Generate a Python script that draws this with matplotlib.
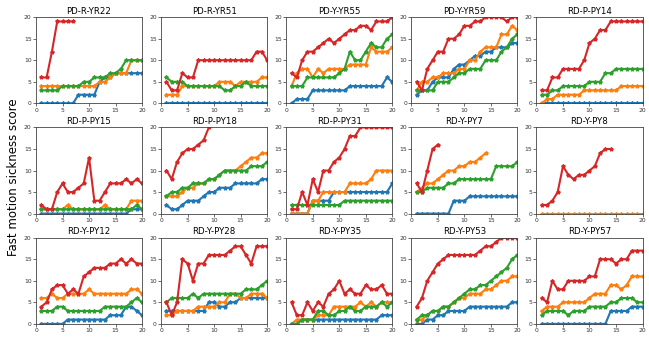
import matplotlib
matplotlib.use("Agg")
import matplotlib.pyplot as plt

titles = ["PD-R-YR22", "PD-R-YR51", "PD-Y-YR55", "PD-Y-YR59", "RD-P-PY14",
          "RD-P-PY15", "RD-P-PY18", "RD-P-PY31", "RD-Y-PY7", "RD-Y-PY8",
          "RD-Y-PY12", "RD-Y-PY28", "RD-Y-PY35", "RD-Y-PY53", "RD-Y-PY57"]

pd_r_yr22 = dict(
    blue=[0, 0, 0, 0, 0, 0, 0, 2, 2, 2, 2, 5, 6, 6, 7, 7, 7, 7, 7, 7],
    orange=[4, 4, 4, 4, 4, 4, 4, 4, 4, 4, 4, 5, 5, 6, 7, 7, 7, 10, 10, 10],
    green=[3, 3, 3, 3, 4, 4, 4, 4, 5, 5, 6, 6, 6, 7, 7, 8, 10, 10, 10, 10],
    red=[6, 6, 12, 19, 19, 19, 19])
pd_r_yr51 = dict(
    blue=[0] * 20,
    orange=[2, 2, 2, 4, 4, 4, 4, 4, 4, 4, 5, 5, 5, 4, 5, 5, 5, 5, 6, 6],
    green=[6, 5, 5, 5, 4, 4, 4, 4, 4, 4, 4, 3, 3, 4, 4, 5, 4, 4, 4, 4],
    red=[5, 3, 3, 7, 6, 6, 10, 10, 10, 10, 10, 10, 10, 10, 10, 10, 10, 12, 12, 10])
pd_y_yr55 = dict(
    blue=[0, 1, 1, 1, 3, 3, 3, 3, 3, 3, 3, 4, 4, 4, 4, 4, 4, 4, 6, 5],
    orange=[4, 7, 8, 8, 6, 8, 7, 8, 8, 8, 8, 9, 9, 9, 9, 13, 12, 12, 12, 13],
    green=[4, 4, 4, 6, 6, 6, 6, 6, 6, 7, 8, 12, 10, 10, 12, 14, 13, 13, 15, 16],
    red=[7, 6, 10, 12, 12, 13, 14, 15, 14, 15, 16, 17, 17, 18, 18, 17, 19, 19, 19, 20])
pd_y_yr59 = dict(
    blue=[2, 3, 3, 5, 6, 6, 6, 8, 9, 9, 10, 11, 11, 12, 12, 13, 13, 13, 14, 14],
    orange=[3, 5, 5, 6, 6, 7, 7, 7, 8, 8, 10, 10, 12, 13, 13, 13, 16, 16, 18, 17],
    green=[3, 3, 3, 3, 5, 5, 5, 6, 7, 7, 8, 8, 8, 10, 10, 10, 12, 13, 15, 16],
    red=[5, 3, 8, 10, 12, 12, 15, 15, 16, 18, 18, 19, 19, 20, 20, 20, 20, 19, 20, 20])
rd_p_py14 = dict(
    blue=[0] * 20,
    orange=[0, 1, 1, 2, 2, 2, 2, 2, 3, 3, 3, 3, 3, 3, 3, 4, 4, 4, 4, 4],
    green=[2, 2, 3, 3, 4, 4, 4, 4, 4, 5, 5, 5, 7, 7, 8, 8, 8, 8, 8, 8],
    red=[3, 3, 6, 6, 8, 8, 8, 8, 10, 14, 15, 17, 17, 19, 19, 19, 19, 19, 19, 19])
rd_p_py15 = dict(
    blue=[0, 0, 0, 0, 0, 0, 0, 0, 0, 0, 0, 0, 0, 0, 0, 0, 0, 1, 1, 1],
    orange=[1, 1, 1, 1, 1, 2, 1, 1, 1, 1, 1, 1, 2, 1, 1, 1, 1, 3, 3, 3],
    green=[1, 1, 1, 1, 1, 1, 1, 1, 1, 1, 1, 1, 1, 1, 1, 1, 1, 1, 2, 1],
    red=[2, 1, 1, 5, 7, 5, 5, 6, 7, 13, 3, 3, 5, 7, 7, 7, 8, 7, 8, 7])
rd_p_py18 = dict(
    blue=[2, 1, 1, 2, 3, 3, 3, 4, 5, 5, 6, 6, 6, 7, 7, 7, 7, 7, 8, 8],
    orange=[4, 4, 4, 5, 6, 6, 7, 7, 8, 8, 9, 10, 10, 10, 11, 12, 13, 13, 14, 14],
    green=[4, 5, 5, 6, 6, 7, 7, 7, 8, 8, 9, 10, 10, 10, 10, 10, 11, 11, 11, 12],
    red=[10, 8, 12, 14, 15, 15, 16, 17, 20])
rd_p_py31 = dict(
    blue=[0, 0, 0, 0, 3, 3, 3, 3, 5, 5, 5, 5, 5, 5, 5, 5, 5, 5, 5, 7],
    orange=[0, 0, 0, 0, 3, 3, 5, 5, 5, 5, 5, 7, 7, 7, 7, 8, 10, 10, 10, 10],
    green=[2, 2, 2, 2, 2, 2, 2, 2, 2, 2, 3, 3, 3, 3, 3, 3, 3, 3, 3, 3],
    red=[1, 1, 5, 2, 8, 5, 10, 10, 12, 13, 15, 18, 18, 20, 20, 20, 20, 20, 20, 20])
rd_y_py7 = dict(
    blue=[0, 0, 0, 0, 0, 0, 0, 3, 3, 3, 4, 4, 4, 4, 4, 4, 4, 4, 4, 4],
    orange=[5, 6, 7, 7, 8, 9, 10, 10, 11, 11, 12, 12, 13, 14],
    green=[5, 5, 6, 6, 6, 6, 7, 7, 8, 8, 8, 8, 8, 8, 8, 11, 11, 11, 11, 12],
    red=[7, 5, 10, 15, 16])
rd_y_py8 = dict(
    blue=None,
    orange=[0] * 20,
    green=None,
    red=[2, 2, 3, 5, 11, 9, 8, 9, 9, 10, 11, 14, 15, 15])
rd_y_py12 = dict(
    blue=[0, 0, 0, 0, 0, 1, 1, 1, 1, 1, 1, 1, 1, 2, 2, 2, 4, 4, 3, 2],
    orange=[6, 6, 7, 6, 6, 7, 7, 7, 7, 8, 7, 7, 7, 7, 7, 7, 7, 8, 8, 7],
    green=[3, 3, 3, 4, 4, 3, 3, 3, 3, 3, 3, 3, 4, 4, 4, 4, 4, 5, 6, 5],
    red=[4, 5, 8, 9, 9, 7, 8, 7, 11, 12, 13, 13, 13, 14, 14, 15, 14, 15, 14, 14])
rd_y_py28 = dict(
    blue=[3, 3, 3, 3, 3, 3, 3, 3, 5, 5, 4, 4, 5, 5, 6, 6, 6, 6, 6, 6],
    orange=[2, 2, 3, 3, 3, 3, 4, 4, 4, 4, 5, 5, 7, 7, 6, 6, 7, 7, 7, 6],
    green=[5, 6, 6, 6, 6, 7, 6, 7, 7, 7, 7, 7, 7, 7, 7, 8, 8, 8, 9, 10],
    red=[5, 2, 5, 15, 14, 10, 14, 14, 16, 16, 16, 16, 17, 18, 18, 16, 14, 18, 18, 18])
rd_y_py35 = dict(
    blue=[0, 0, 1, 1, 1, 1, 1, 1, 1, 1, 1, 1, 1, 1, 1, 1, 1, 2, 2, 2],
    orange=[0, 1, 1, 1, 1, 2, 2, 2, 4, 4, 4, 4, 4, 5, 4, 5, 4, 5, 5, 5],
    green=[0, 0, 1, 1, 1, 3, 3, 2, 2, 3, 3, 4, 3, 3, 4, 4, 4, 5, 4, 5],
    red=[5, 2, 2, 5, 3, 5, 4, 7, 8, 10, 7, 8, 7, 7, 9, 8, 8, 9, 7, 7])
rd_y_py53 = dict(
    blue=[0, 0, 1, 1, 2, 2, 3, 3, 3, 3, 4, 4, 4, 4, 4, 4, 4, 4, 5, 5],
    orange=[1, 1, 2, 3, 3, 4, 4, 5, 6, 6, 7, 7, 7, 8, 8, 9, 10, 10, 11, 11],
    green=[1, 2, 2, 3, 3, 4, 4, 5, 6, 7, 8, 8, 9, 9, 10, 11, 12, 13, 15, 16],
    red=[4, 6, 10, 12, 14, 15, 16, 16, 16, 16, 16, 16, 17, 18, 18, 19, 20, 20, 20, 20])
rd_y_py57 = dict(
    blue=[0, 0, 0, 0, 0, 0, 0, 0, 0, 0, 0, 0, 0, 3, 3, 3, 3, 4, 4, 4],
    orange=[3, 4, 4, 4, 5, 5, 5, 5, 5, 6, 7, 7, 7, 9, 9, 8, 9, 11, 11, 11],
    green=[2, 3, 3, 3, 3, 2, 3, 3, 3, 4, 4, 4, 4, 5, 5, 6, 6, 6, 5, 5],
    red=[6, 5, 10, 8, 8, 10, 10, 10, 10, 11, 11, 15, 15, 15, 14, 15, 15, 17, 17, 17])

panels = [pd_r_yr22, pd_r_yr51, pd_y_yr55, pd_y_yr59, rd_p_py14,
          rd_p_py15, rd_p_py18, rd_p_py31, rd_y_py7, rd_y_py8,
          rd_y_py12, rd_y_py28, rd_y_py35, rd_y_py53, rd_y_py57]

ticks = [0, 5, 10, 15, 20]
colors = {"blue": "#1f77b4", "orange": "#ff7f0e", "green": "#2ca02c", "red": "#d62728"}
order = ["blue", "orange", "green", "red"]

fig, axes = plt.subplots(3, 5, figsize=(6.49, 3.37), dpi=100)
fig.subplots_adjust(left=0.0555, right=0.99, bottom=0.039, top=0.949,
                    wspace=0.18, hspace=0.28)

for ax, title, data in zip(axes.flat, titles, panels):
    for key in order:
        vals = data[key]
        if vals is None:
            continue
        xs = list(range(1, len(vals) + 1))
        ax.plot(xs, vals, color=colors[key], lw=1.5, marker="*", ms=2.8)
    ax.set_xlim(0, 20)
    ax.set_ylim(0, 20)
    ax.set_xticks(ticks)
    ax.set_yticks(ticks)
    ax.tick_params(labelsize=4.3, length=2, width=0.5, pad=1.2, colors="#333333")
    for s in ax.spines.values():
        s.set_linewidth(0.6)
        s.set_color("#444444")
    ax.set_title(title, fontsize=6.2, pad=2.5)

fig.text(0.021, 0.475, "Fast motion sickness score", rotation=90,
         va="center", ha="center", fontsize=8.5)

fig.savefig("out.png", dpi=100)
